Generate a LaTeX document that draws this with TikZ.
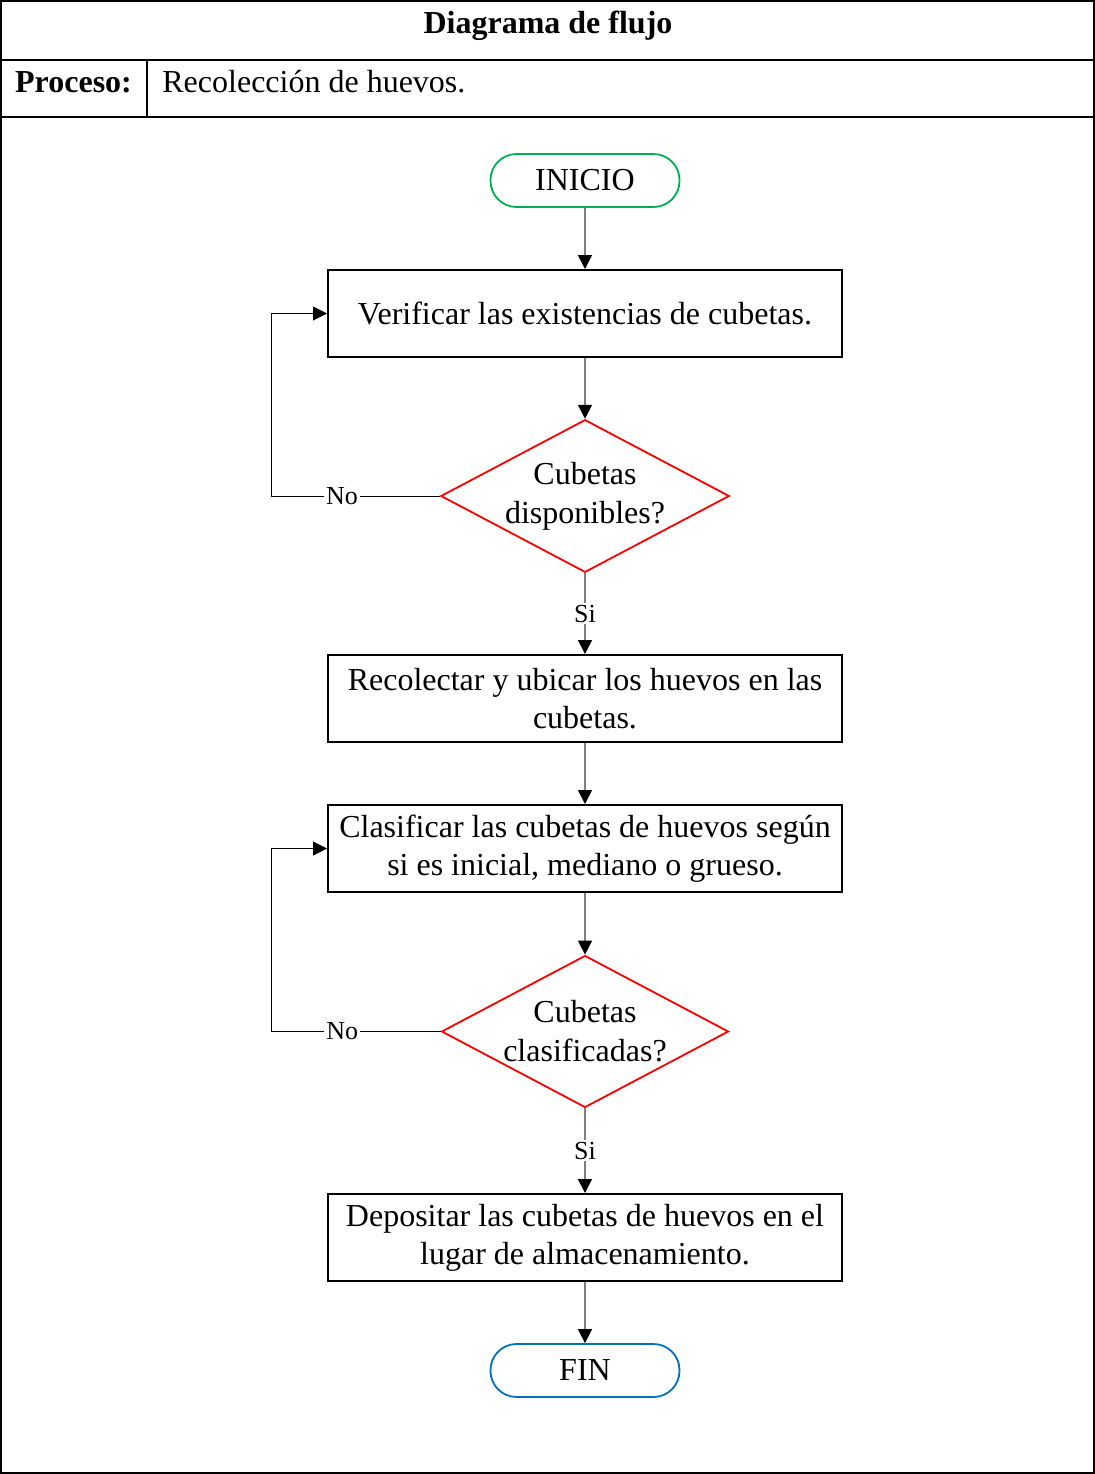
\documentclass[tikz,border=0pt]{standalone}
\usepackage{fontspec}
\setmainfont{Liberation Serif}
\usepackage{xcolor}
\definecolor{fgreen}{HTML}{00B050}
\definecolor{fblue}{HTML}{0070C0}
\definecolor{fred}{HTML}{FF0000}
\definecolor{fgray}{HTML}{7F7F7F}
\usetikzlibrary{arrows.meta,positioning,shapes.geometric}

\begin{document}
\begin{tikzpicture}[x=0.5pt,y=-0.5pt,
  font=\fontsize{16}{19}\selectfont,
  frame/.style={black,line width=1pt},
  taskbox/.style={rectangle,draw=black,line width=1pt,minimum width=257pt,minimum height=43.5pt,align=center,inner sep=2pt},
  term/.style={rectangle,rounded corners=13pt,line width=0.9pt,minimum width=94.5pt,minimum height=26.5pt},
  decis/.style={diamond,draw=fred,line width=0.9pt,aspect=1.89,inner sep=0pt,minimum width=143.5pt,minimum height=76pt,align=center,font=\fontsize{16}{19.5}\selectfont},
  flow/.style={fgray,line width=0.8pt,-{Triangle[length=7pt,width=7pt,color=black]}},
  back/.style={black,line width=0.5pt,-{Triangle[length=7pt,width=7pt]}},
  lbl/.style={fill=white,inner sep=1pt,text=black,font=\fontsize{13}{15}\selectfont}]
\useasboundingbox (0,0) rectangle (1095,1474);
% table frame
\draw[frame] (1,1) rectangle (1094,1473);
\draw[frame] (1,60) -- (1094,60);
\draw[frame] (1,117) -- (1094,117);
\draw[frame] (147,60) -- (147,117);
\node[font=\fontsize{16}{19}\selectfont\bfseries,anchor=base] (title) at (548,33) {Diagrama de flujo};
\node[font=\fontsize{16}{19}\selectfont\bfseries,anchor=base] (prockey) at (73.5,92) {Proceso:};
\node[anchor=base west,inner sep=0pt] (procname) at (162,92) {Recolección de huevos.};
% flow nodes
\node[term,draw=fgreen] (inicio) at (585,180.5) {INICIO};
\node[taskbox] (verif) at (585,313.5) {Verificar las existencias de cubetas.};
\node[decis] (disp) at (585,496) {Cubetas\\disponibles?};
\node[taskbox] (recol) at (585,698.5) {Recolectar y ubicar los huevos en las\\cubetas.};
\node[taskbox] (clasif) at (585,848.5) {Clasificar las cubetas de huevos según\\si es inicial, mediano o grueso.};
\node[decis] (clas) at (585,1031.5) {Cubetas\\clasificadas?};
\node[taskbox] (depos) at (585,1237.5) {Depositar las cubetas de huevos en el\\lugar de almacenamiento.};
\node[term,draw=fblue] (fin) at (585,1370.5) {FIN};
% straight connectors
\foreach \a/\b in {inicio/verif,verif/disp,recol/clasif,clasif/clas,depos/fin}{
  \draw[flow] (\a) -- (\b);}
\draw[flow] (disp) -- node[lbl]{Si} (recol);
\draw[flow] (clas) -- node[lbl]{Si} (depos);
% loops back
\coordinate (loopA) at (271,496);
\coordinate (loopB) at (271,1031.5);
\draw[back] (disp.west) -- node[lbl,pos=0.58]{No} (loopA) |- (verif.west);
\draw[back] (clas.west) -- node[lbl,pos=0.58]{No} (loopB) |- (clasif.west);
\end{tikzpicture}
\end{document}
